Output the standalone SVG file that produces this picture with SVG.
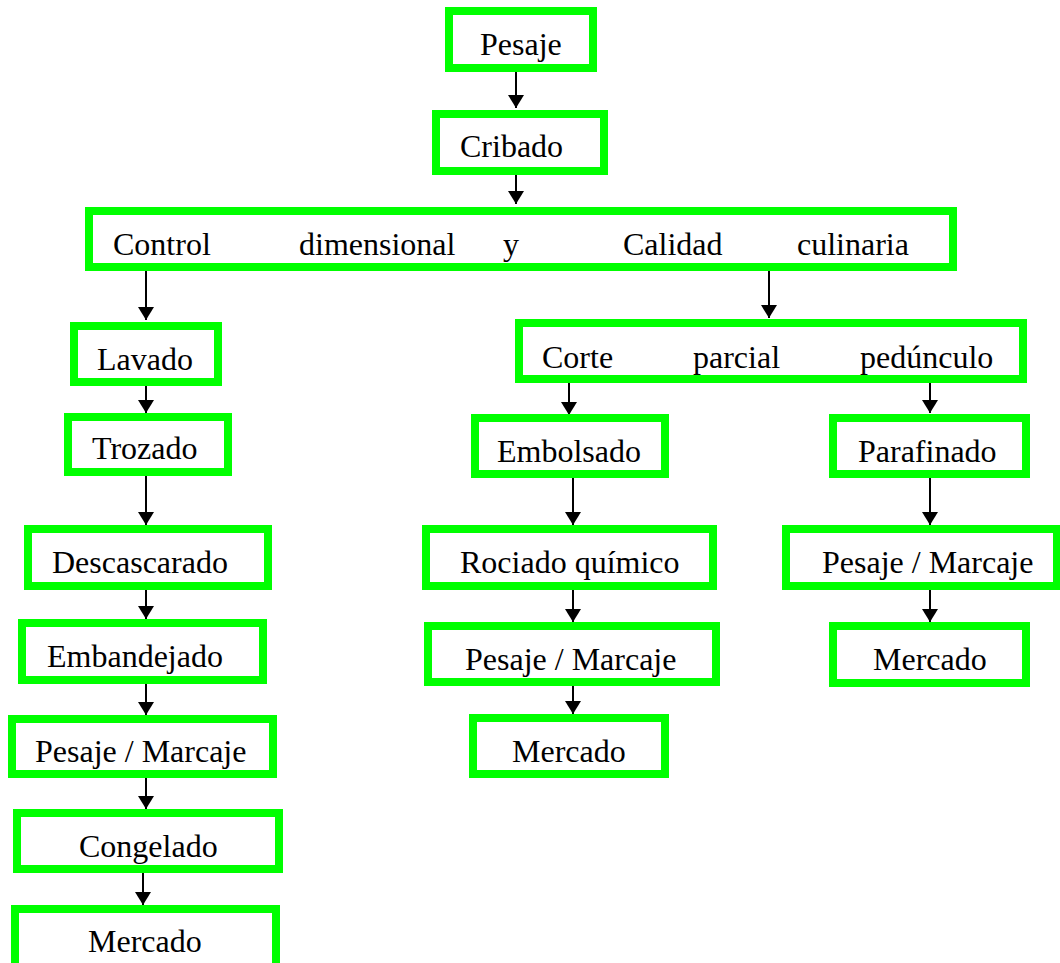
<svg xmlns="http://www.w3.org/2000/svg" width="1060" height="963" viewBox="0 0 1060 963">
<style>
.box{fill:#ffffff;stroke:#00ff00;stroke-width:8}
.t{font-family:"Liberation Serif","Times New Roman",serif;font-size:32px;fill:#000000}
.c{stroke:#000000;stroke-width:2;fill:none}
</style>
<defs>
<marker id="ah" markerUnits="userSpaceOnUse" markerWidth="14" markerHeight="16" refX="13" refY="8" orient="auto">
<path d="M0,0 L13,8 L0,16 z" fill="#000000"/>
</marker>
</defs>
<rect width="1060" height="963" fill="#ffffff"/>
<g id="connectors">
<line class="c" x1="516" y1="72" x2="516" y2="108" marker-end="url(#ah)"/>
<line class="c" x1="516" y1="175" x2="516" y2="204" marker-end="url(#ah)"/>
<line class="c" x1="146" y1="271" x2="146" y2="320" marker-end="url(#ah)"/>
<line class="c" x1="769" y1="271" x2="769" y2="318" marker-end="url(#ah)"/>
<line class="c" x1="146" y1="386" x2="146" y2="413" marker-end="url(#ah)"/>
<line class="c" x1="146" y1="476" x2="146" y2="525" marker-end="url(#ah)"/>
<line class="c" x1="146" y1="590" x2="146" y2="619" marker-end="url(#ah)"/>
<line class="c" x1="146" y1="684" x2="146" y2="715" marker-end="url(#ah)"/>
<line class="c" x1="146" y1="778" x2="146" y2="809" marker-end="url(#ah)"/>
<line class="c" x1="143" y1="873" x2="143" y2="905" marker-end="url(#ah)"/>
<line class="c" x1="569" y1="383" x2="569" y2="415" marker-end="url(#ah)"/>
<line class="c" x1="930" y1="383" x2="930" y2="413" marker-end="url(#ah)"/>
<line class="c" x1="573" y1="478" x2="573" y2="525" marker-end="url(#ah)"/>
<line class="c" x1="573" y1="590" x2="573" y2="622" marker-end="url(#ah)"/>
<line class="c" x1="573" y1="686" x2="573" y2="714" marker-end="url(#ah)"/>
<line class="c" x1="930" y1="478" x2="930" y2="525" marker-end="url(#ah)"/>
<line class="c" x1="930" y1="590" x2="930" y2="622" marker-end="url(#ah)"/>
</g>
<g id="pesaje"><rect class="box" x="449" y="11" width="144" height="57"/><text class="t" x="480" y="55">Pesaje</text></g>
<g id="cribado"><rect class="box" x="436" y="114" width="168" height="57"/><text class="t" x="460" y="157">Cribado</text></g>
<g id="control"><rect class="box" x="89" y="211" width="864" height="56"/>
<text class="t" y="255"><tspan x="113">Control</tspan><tspan x="299">dimensional</tspan><tspan x="503">y</tspan><tspan x="623">Calidad</tspan><tspan x="797">culinaria</tspan></text></g>
<g id="lavado"><rect class="box" x="74" y="326" width="144" height="56"/><text class="t" x="97" y="370">Lavado</text></g>
<g id="trozado"><rect class="box" x="68" y="417" width="160" height="55"/><text class="t" x="92" y="459">Trozado</text></g>
<g id="descascarado"><rect class="box" x="28" y="529" width="240" height="57"/><text class="t" x="52" y="573">Descascarado</text></g>
<g id="embandejado"><rect class="box" x="22" y="623" width="241" height="57"/><text class="t" x="47" y="667">Embandejado</text></g>
<g id="pesaje-marcaje-1"><rect class="box" x="12" y="719" width="261" height="55"/><text class="t" x="35" y="762">Pesaje / Marcaje</text></g>
<g id="congelado"><rect class="box" x="17" y="813" width="262" height="56"/><text class="t" x="79" y="857">Congelado</text></g>
<g id="mercado-1"><rect class="box" x="15" y="909" width="261" height="62"/><text class="t" x="88" y="952">Mercado</text></g>
<g id="corte"><rect class="box" x="519" y="323" width="504" height="56"/>
<text class="t" y="368"><tspan x="542">Corte</tspan><tspan x="693">parcial</tspan><tspan x="860">pedúnculo</tspan></text></g>
<g id="embolsado"><rect class="box" x="475" y="418" width="190" height="56"/><text class="t" x="497" y="462">Embolsado</text></g>
<g id="rociado"><rect class="box" x="426" y="529" width="287" height="57"/><text class="t" x="460" y="573">Rociado químico</text></g>
<g id="pesaje-marcaje-2"><rect class="box" x="428" y="626" width="288" height="56"/><text class="t" x="465" y="670">Pesaje / Marcaje</text></g>
<g id="mercado-2"><rect class="box" x="473" y="718" width="192" height="56"/><text class="t" x="512" y="762">Mercado</text></g>
<g id="parafinado"><rect class="box" x="833" y="418" width="193" height="56"/><text class="t" x="858" y="462">Parafinado</text></g>
<g id="pesaje-marcaje-3"><rect class="box" x="786" y="529" width="271" height="57"/><text class="t" x="822" y="573">Pesaje / Marcaje</text></g>
<g id="mercado-3"><rect class="box" x="833" y="626" width="193" height="57"/><text class="t" x="873" y="670">Mercado</text></g>
</svg>
